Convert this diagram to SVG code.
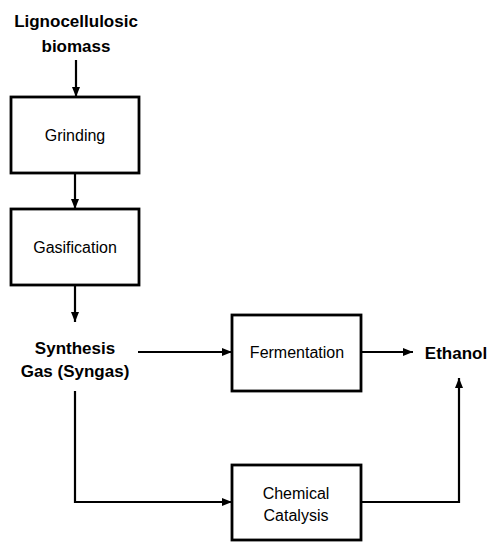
<svg xmlns="http://www.w3.org/2000/svg" width="499" height="550" viewBox="0 0 499 550">
<style>
.box{fill:#fff;stroke:#000;stroke-width:2.8}
.lbl{font-family:"Liberation Sans",Arial,sans-serif;font-size:16px;fill:#000;text-anchor:middle}
.bold{font-family:"Liberation Sans",Arial,sans-serif;font-size:17px;font-weight:bold;fill:#000;text-anchor:middle}
.ln{fill:none;stroke:#000;stroke-width:2.2}
</style>
<defs>
<marker id="ah" viewBox="0 0 10 10" refX="10" refY="5" markerWidth="10" markerHeight="10" markerUnits="userSpaceOnUse" orient="auto">
<path d="M0,1 L10,5 L0,9 z" fill="#000"/>
</marker>
</defs>
<rect width="499" height="550" fill="#fff"/>
<g id="biomass"><text class="bold" x="76" y="27">Lignocellulosic</text><text class="bold" x="76" y="52">biomass</text></g>
<g id="grinding"><rect class="box" x="11" y="97" width="128" height="76"/><text class="lbl" x="75" y="141">Grinding</text></g>
<g id="gasification"><rect class="box" x="11" y="209" width="128" height="76"/><text class="lbl" x="75" y="253">Gasification</text></g>
<g id="syngas"><text class="bold" x="75" y="354">Synthesis</text><text class="bold" x="75" y="377">Gas (Syngas)</text></g>
<g id="fermentation"><rect class="box" x="232" y="315" width="129" height="76"/><text class="lbl" x="297" y="358">Fermentation</text></g>
<g id="catalysis"><rect class="box" x="232" y="465" width="129" height="75"/><text class="lbl" x="296" y="499">Chemical</text><text class="lbl" x="296" y="521">Catalysis</text></g>
<g id="ethanol"><text class="bold" x="456" y="359" font-size="18">Ethanol</text></g>
<g id="connectors">
<path class="ln" d="M76,60 V97" marker-end="url(#ah)"/>
<path class="ln" d="M75,173 V209" marker-end="url(#ah)"/>
<path class="ln" d="M75,285 V322" marker-end="url(#ah)"/>
<path class="ln" d="M138,352 H232" marker-end="url(#ah)"/>
<path class="ln" d="M361,352 H413" marker-end="url(#ah)"/>
<path class="ln" d="M75,391 V502 H232" marker-end="url(#ah)"/>
<path class="ln" d="M361,502 H459 V378" marker-end="url(#ah)"/>
</g>
</svg>
